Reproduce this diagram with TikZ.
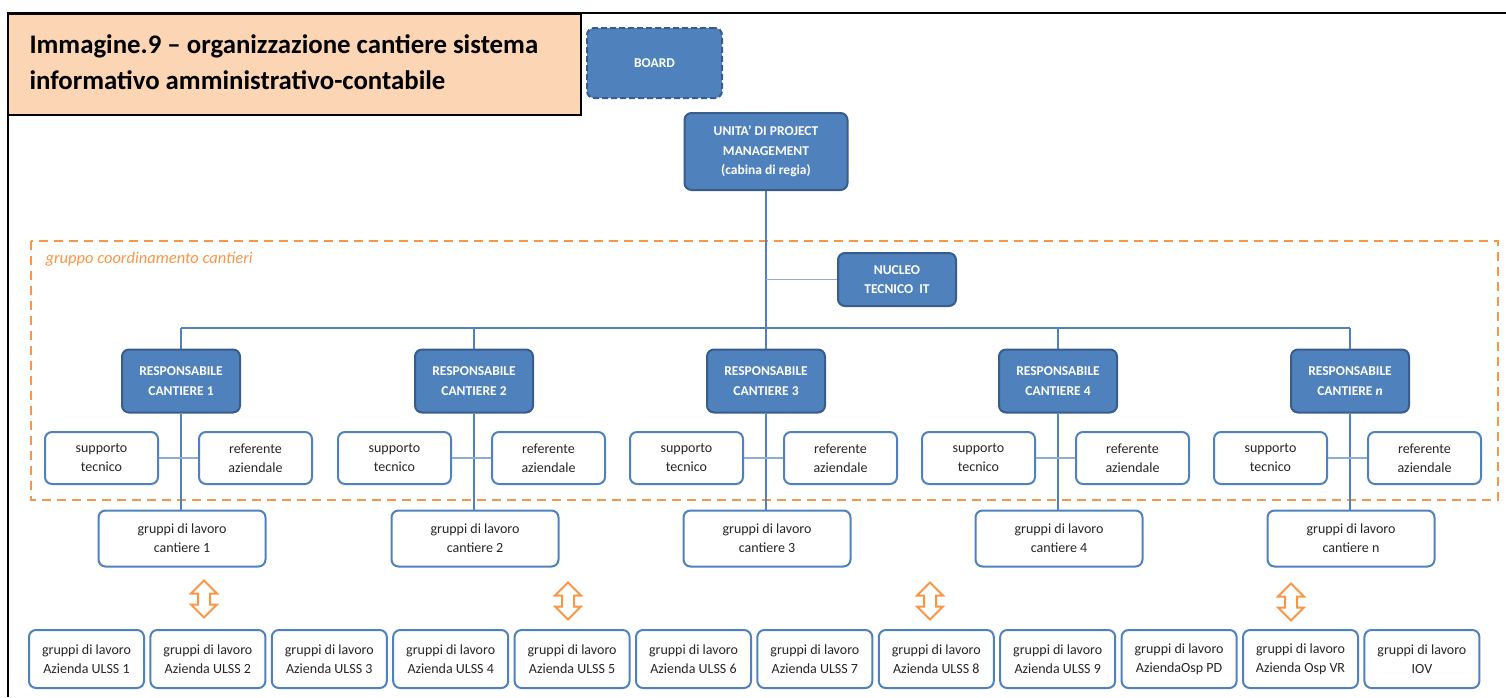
\documentclass[tikz,border=0pt]{standalone}
\usepackage{fontspec}
\setmainfont{Carlito}
\usepackage{xcolor}
\usepackage{tikz}
\usetikzlibrary{arrows.meta,positioning,calc,shapes.arrows}
\definecolor{cBlue}{RGB}{79,129,189}
\definecolor{cBlueDark}{RGB}{56,93,138}
\definecolor{cLine}{RGB}{79,129,189}
\definecolor{cOrange}{RGB}{247,150,70}
\definecolor{cTitle}{RGB}{252,213,180}
\definecolor{cText}{RGB}{38,38,38}
\tikzset{
  blu/.style={draw=cBlueDark, fill=cBlue, line width=2pt, rounded corners=7pt,
              align=center, text=white, font=\fontsize{13.5}{19.5}\selectfont\bfseries},
  sub/.style={draw=cBlue, fill=white, line width=2pt, rounded corners=7pt,
              align=center, text=cText, font=\fontsize{14}{19}\selectfont},
  link/.style={draw=cLine, line width=1.3pt},
  twoarr/.style={double arrow, shape border rotate=90, draw=cOrange, fill=white,
                 line width=2pt, minimum height=37pt, minimum width=24pt,
                 double arrow head extend=7pt, inner sep=5pt},
}
\begin{document}
\begin{tikzpicture}[x=1pt,y=-1pt]
  \useasboundingbox (0,0) rectangle (1506,697);
  \draw[line width=2pt] (1506,13) -- (8,13) -- (8,697);
  \node[draw, line width=2pt, fill=cTitle, minimum width=573pt, minimum height=101pt,
        anchor=north west, inner sep=0pt] (title) at (7,13) {};
  \node[anchor=west, align=left, font=\fontsize{26.8}{36}\selectfont\bfseries]
        (titletext) at (26,62) {Immagine.9 -- organizzazione cantiere sistema\\informativo amministrativo-contabile};
  \node[blu, dashed, dash pattern=on 6pt off 3pt, minimum width=135pt, minimum height=70pt] (board) at (654.5,63) {BOARD};
  \node[blu, minimum width=163pt, minimum height=77pt] (pm) at (766,151.5) {UNITA' DI PROJECT\\MANAGEMENT\\(cabina di regia)};
  \draw[cOrange, line width=2pt, dash pattern=on 9pt off 6pt] (31,241) rectangle (1498,500);
  \node[anchor=west, text=cOrange, font=\fontsize{16.5}{20}\selectfont\itshape] (grp) at (42,259) {gruppo coordinamento cantieri};
  \node[blu, minimum width=118pt, minimum height=53pt] (nucleo) at (897,279.5) {NUCLEO\\TECNICO~~IT};
  \coordinate (busL) at (181,328);
  \coordinate (busR) at (1350,328);
  \draw[link] (busL) -- (busR);
  \draw[link] (pm.south) -- (766,328);
  \draw[link, draw=cLine!65] (766,279.5) -- (nucleo.west);
  \foreach \i/\x/\lab in {1/181/1, 2/474/2, 3/766/3, 4/1058/4, n/1350/{\textit{n}}}{
    \node[blu, minimum width=118pt, minimum height=63pt] (resp\i) at (\x,381) {RESPONSABILE\\CANTIERE \lab};
    \node[sub, minimum width=113pt, minimum height=52pt, anchor=east] (sup\i) at (\x-22,458) {supporto\\tecnico};
    \node[sub, minimum width=113pt, minimum height=52pt, anchor=west] (ref\i) at (\x+17,458) {referente\\aziendale};
    \node[sub, minimum width=167pt, minimum height=56pt] (gdl\i) at (\x+1,538.5) {gruppi di lavoro\\cantiere \i};
    \draw[link] (\x,328) -- (resp\i.north);
    \draw[link] (resp\i.south) -- (\x,510.5);
    \draw[link, draw=cLine!65] (sup\i.east) -- (ref\i.west);
  }
  \node[twoarr] (dblA) at (204,599) {};
  \node[twoarr] (dblB) at (568,601) {};
  \node[twoarr] (dblC) at (930,601) {};
  \node[twoarr] (dblD) at (1291,602) {};
  \foreach \k/\lab in {1/Azienda ULSS 1, 2/Azienda ULSS 2, 3/Azienda ULSS 3, 4/Azienda ULSS 4,
                       5/Azienda ULSS 5, 6/Azienda ULSS 6, 7/Azienda ULSS 7, 8/Azienda ULSS 8,
                       9/Azienda ULSS 9, 10/AziendaOsp PD, 11/Azienda Osp VR, 12/IOV}{
    \node[sub, minimum width=115pt, minimum height=58pt] (az\k) at ({86.5+121.4*(\k-1)},659) {gruppi di lavoro\\\lab};
  }
\end{tikzpicture}
\end{document}
